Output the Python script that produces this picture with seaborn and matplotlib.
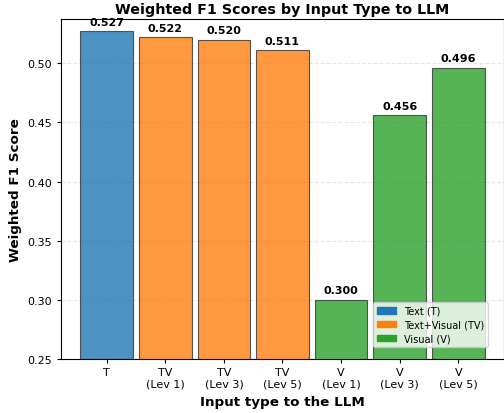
import numpy as np
import pandas as pd
import seaborn as sns
import matplotlib.pyplot as plt
from matplotlib.patches import Patch

# --- data ---
tick_labels = ['T', 'TV\n(Lev 1)', 'TV\n(Lev 3)', 'TV\n(Lev 5)',
               'V\n(Lev 1)', 'V\n(Lev 3)', 'V\n(Lev 5)']
input_groups = ['Text (T)', 'Text+Visual (TV)', 'Text+Visual (TV)', 'Text+Visual (TV)',
                'Visual (V)', 'Visual (V)', 'Visual (V)']
f1_scores = [0.527, 0.522, 0.520, 0.511, 0.300, 0.456, 0.496]

group_order = ['Text (T)', 'Text+Visual (TV)', 'Visual (V)']
group_colors = ['#1f77b4', '#ff7f0e', '#2ca02c']

df = pd.DataFrame({'input': tick_labels, 'group': input_groups, 'f1': f1_scores})

fig, ax = plt.subplots(figsize=(5.04, 4.14), dpi=100)
sns.barplot(data=df, x='input', y='f1', hue='group', hue_order=group_order,
            palette=group_colors, saturation=1, dodge=False, width=0.9, alpha=0.8,
            edgecolor='#333333', linewidth=0.8, legend=False, ax=ax)

# value labels above each bar
for i, v in enumerate(f1_scores):
    ax.text(i, v + 0.004, f'{v:.3f}', ha='center', va='bottom',
            fontsize=8, fontweight='bold')

ax.set_ylim(0.25, max(f1_scores) * 1.02)
ax.set_xlim(-0.78, len(tick_labels) - 1 + 0.78)
ax.set_title('Weighted F1 Scores by Input Type to LLM', fontsize=10.3, fontweight='bold', pad=4)
ax.set_xlabel('Input type to the LLM', fontsize=9.7, fontweight='bold', labelpad=5)
ax.set_ylabel('Weighted F1 Score', fontsize=9.7, fontweight='bold')
ax.tick_params(labelsize=8, length=3)
ax.tick_params(axis='x', pad=2.5)
ax.grid(axis='y', linestyle='--', alpha=0.3)
ax.set_axisbelow(True)

handles = [Patch(color=c, label=g) for g, c in zip(group_order, group_colors)]
ax.legend(handles=handles, loc='lower right', bbox_to_anchor=(0.964, 0.035),
          borderaxespad=0, fontsize=7, labelspacing=0.4, framealpha=0.8)

plt.subplots_adjust(left=0.121, right=1.0, top=0.952, bottom=0.13)
plt.savefig('out.png', dpi=100)
